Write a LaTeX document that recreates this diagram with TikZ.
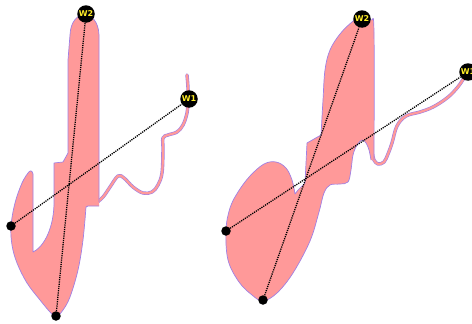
\documentclass[tikz,border=0pt]{standalone}
\usepackage{fontspec}
\setsansfont{DejaVu Sans}
\usepackage{tikz}
\usetikzlibrary{positioning}
\definecolor{BlobPink}{RGB}{255,153,153}
\definecolor{BlobEdge}{RGB}{160,128,228}
\definecolor{LabelYellow}{RGB}{255,238,40}

\begin{document}
\begin{tikzpicture}[x=1pt, y=-1pt,
				blob/.style={fill=BlobPink, draw=BlobEdge, line width=0.7pt, line join=round},
				tail/.style={draw=BlobEdge, double=BlobPink, double distance=2.2pt,
					line width=0.6pt, line cap=round, line join=round},
				wdot/.style={circle, fill=black, minimum size=17.5pt, inner sep=0pt,
					text=LabelYellow, font=\sffamily\bfseries\fontsize{8}{8}\selectfont},
				pdot/.style={circle, fill=black, minimum size=9.5pt, inner sep=0pt},
				dline/.style={black, line width=1.3pt, dash pattern=on 1.2pt off 1pt}
				]
				\useasboundingbox (0,0) rectangle (472,324);
				% left figure
				\draw[tail] plot[smooth, tension=0.6] coordinates {(95,204) (103,197) (110,187) (118,176) (124,178)
					(133,187) (143,193) (152,192) (158,185) (162,173) (163,150) (163,138) (168,135) (177,132)
					(183,125) (187,113) (188,100) (188,88) (187,75)};
				\draw[blob] (99,202) -- (99,35) .. controls (98,8) and (71,8) .. (70,35) -- (68,60) -- (68,153)
					-- (63,162) -- (54,163) -- (54,205) .. controls (53,232) and (42,248) .. (33,252) -- (33,174)
					.. controls (32,170) and (30,170) .. (28,173)
					-- plot[smooth, tension=0.6] coordinates {(28,173) (22,183) (15,203) (11,226) (12,245) (17,263)
						(27,283) (40,300) (50,312) (56,317) (63,310) (70,297) (78,270) (83,240) (86,207)}
					-- (88,206) -- (99,206);
				\node[wdot] (wa2) at (86,14) {W2};
				\node[wdot] (wa1) at (189,99) {W1};
				\node[pdot] (la) at (11,226) {};
				\node[pdot] (ba) at (56,316) {};
				\draw[dline] (la) -- (wa1);
				\draw[dline] (ba) -- (wa2);
				% right figure
				\draw[tail] plot[smooth, tension=0.6] coordinates {(372.5,154) (374,160) (378,164) (384,162)
					(388,154) (392,143) (397,126) (406,116) (420,112) (433,107) (447,98) (457,88) (464,78) (468,70)};
				\draw[blob] (374,160) -- plot[smooth, tension=0.6] coordinates {(374,160) (374,32) (371,20) (362,16)
						(352,22) (340,34) (330,50) (325,70) (323,100) (321,135)}
					-- (307,143) -- (305,183) -- (298,190) -- (295,194)
					-- plot[smooth, tension=0.6] coordinates {(295,194) (292,180) (286,168) (276,162) (264,164)
						(250,176) (238,192) (230,208) (226,230) (228,260) (239,282) (252,295) (263,301) (277,293)
						(293,273) (310,241) (319,212) (324,193) (330,185) (340,184) (348,182) (351,170) (353,155)
						(357,145) (362,140) (366,143) (369,150) (371,160)};
				\node[wdot] (wb2) at (362,19) {W2};
				\node[wdot] (wb1) at (468,72) {W1};
				\node[pdot] (lb) at (226,231) {};
				\node[pdot] (bb) at (263,300) {};
				\draw[dline] (lb) -- (wb1);
				\draw[dline] (bb) -- (wb2);
			\end{tikzpicture}
\end{document}
